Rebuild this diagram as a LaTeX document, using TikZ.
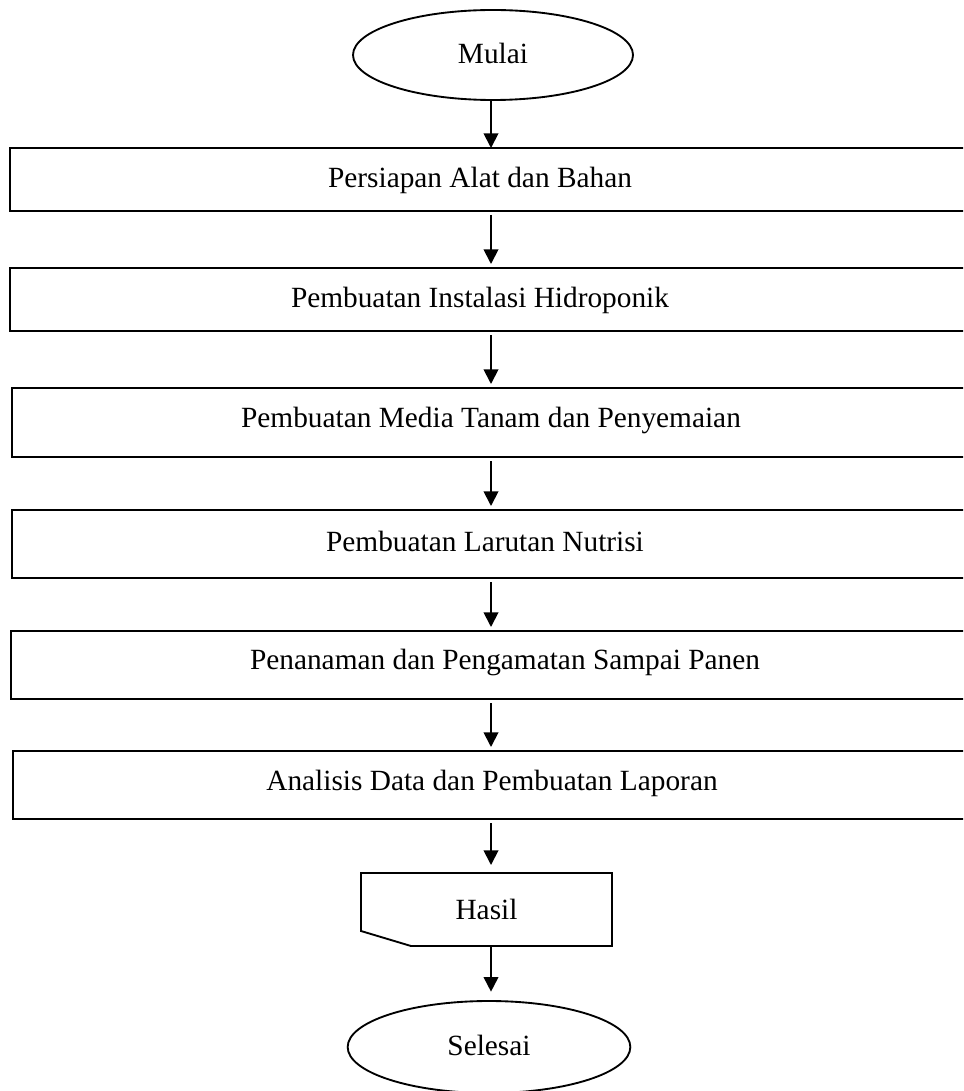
\documentclass[tikz,border=0pt]{standalone}
\usepackage{fontspec}
\setmainfont{Liberation Serif}
\usetikzlibrary{arrows.meta,shapes.geometric}
\begin{document}
\begin{tikzpicture}[x=0.75pt,y=-0.75pt,
  every node/.style={font=\fontsize{22}{26}\selectfont, inner sep=0pt, outer sep=0pt},
  box/.style={draw, line width=1.4pt, anchor=north west, minimum width=735pt},
  term/.style={draw, ellipse, line width=1.4pt},
  arr/.style={line width=1.4pt, -{Triangle[width=11pt,length=11pt]}},
  lbl/.style={anchor=center}
]
\useasboundingbox (0,0) rectangle (963,1091);
\clip (0,0) rectangle (963,1091);

\node[term, minimum width=210pt, minimum height=67.5pt] (start) at (493,55) {};
\node (startt) at (493,53) {Mulai};

\node[box, minimum height=47.25pt] (b1) at (10,148) {};
\node[box, minimum height=47.25pt] (b2) at (10,268) {};
\node[box, minimum height=51.75pt] (b3) at (12,388) {};
\node[box, minimum height=51pt] (b4) at (12,510) {};
\node[box, minimum height=51pt] (b5) at (11,631) {};
\node[box, minimum height=51pt] (b6) at (13,751) {};

\node[lbl] (t1) at (480,180) {Persiapan Alat dan Bahan};
\node[lbl] (t2) at (480,300) {Pembuatan Instalasi Hidroponik};
\node[lbl] (t3) at (491,420) {Pembuatan Media Tanam dan Penyemaian};
\node[lbl] (t4) at (485,541) {Pembuatan Larutan Nutrisi};
\node[lbl] (t5) at (505,662) {Penanaman dan Pengamatan Sampai Panen};
\node[lbl] (t6) at (492,783) {Analisis Data dan Pembuatan Laporan};

\node[minimum width=188.25pt, minimum height=54.75pt] (h) at (486.5,909.5) {Hasil};
\draw[line width=1.4pt] (h.north west) -- (h.north east) -- (h.south east)
  -- ([xshift=37.5pt]h.south west) -- ([yshift=11.25pt]h.south west) -- cycle;

\node[term, minimum width=212pt, minimum height=69pt] (end) at (489,1047) {};
\node (endt) at (489,1045) {Selesai};

\coordinate (ax) at (491,0);
\draw[arr] (start.south -| ax) -- (b1.north -| ax);
\draw[arr, shorten <=3pt, shorten >=3pt] (b1.south -| ax) -- (b2.north -| ax);
\draw[arr, shorten <=3pt, shorten >=3pt] (b2.south -| ax) -- (b3.north -| ax);
\draw[arr, shorten <=3pt, shorten >=3pt] (b3.south -| ax) -- (b4.north -| ax);
\draw[arr, shorten <=3pt, shorten >=3pt] (b4.south -| ax) -- (b5.north -| ax);
\draw[arr, shorten <=3pt, shorten >=3pt] (b5.south -| ax) -- (b6.north -| ax);
\draw[arr, shorten <=3pt, shorten >=6pt] (b6.south -| ax) -- (h.north -| ax);
\draw[arr, shorten >=7pt] (h.south -| ax) -- (end.north -| ax);
\end{tikzpicture}
\end{document}
